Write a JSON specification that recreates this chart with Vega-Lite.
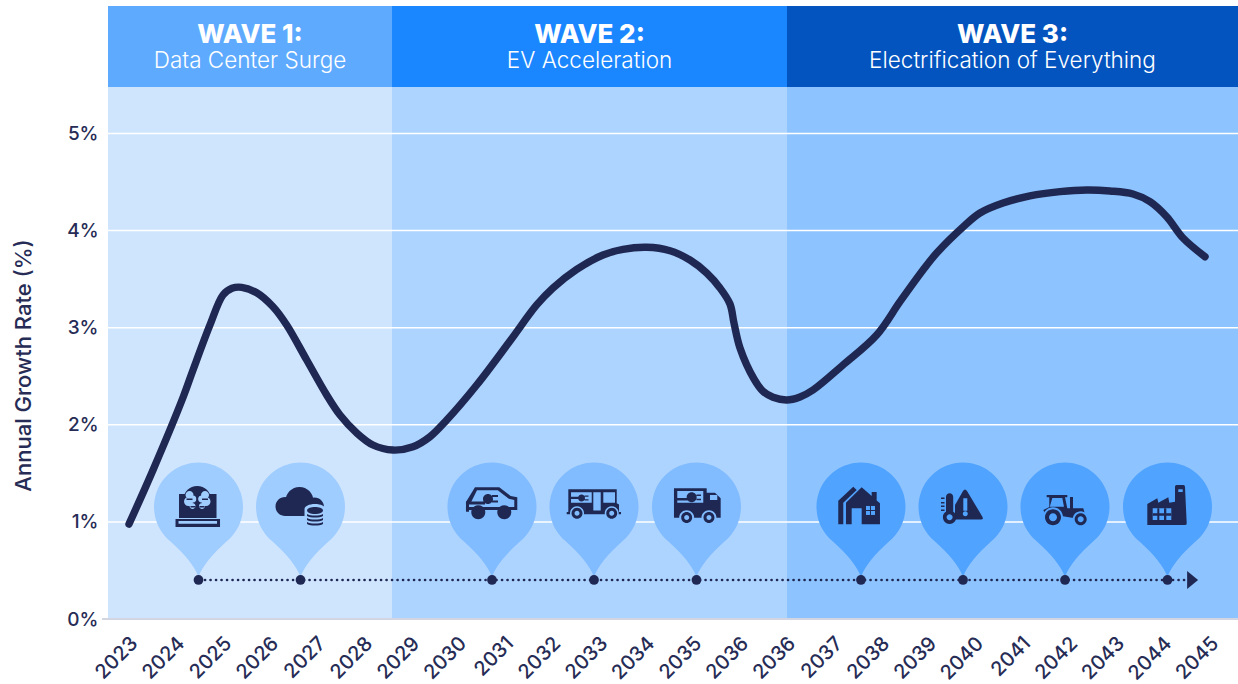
{
"$schema":"https://vega.github.io/schema/vega-lite/v6.json",
"width":1130,"height":613,
"autosize":{"type":"none"},
"padding":{"left":108,"top":6,"right":0,"bottom":65},
"background":"white",
"config":{"view":{"stroke":null},"font":"Inter"},
"datasets":{
"waves":[
{"wave":"w1","title":"WAVE 1:","subtitle":"Data Center Surge","start":-0.447,"end":5.596,"mid":2.574,"base":0,"panelTop":5.48,"headerTop":6.313,"titleY":6.015,"subY":5.742},
{"wave":"w2","title":"WAVE 2:","subtitle":"EV Acceleration","start":5.596,"end":14,"mid":9.798,"base":0,"panelTop":5.48,"headerTop":6.313,"titleY":6.015,"subY":5.742},
{"wave":"w3","title":"WAVE 3:","subtitle":"Electrification of Everything","start":14,"end":23.596,"mid":18.798,"base":0,"panelTop":5.48,"headerTop":6.313,"titleY":6.015,"subY":5.742}],
"grid":[{"g":1},{"g":2},{"g":3},{"g":4},{"g":5}],
"baseline":[{"a":-0.574,"b":23.596,"v":0}],
"timeline":[{"a":1.617,"b":22.53,"v":0.402}],
"arrow":[{"t":22.63,"v":0.402}],
"pins":[
{"icon":"brain","wave":"w1","t":1.479,"v":0.402},
{"icon":"cloud","wave":"w1","t":3.649,"v":0.402},
{"icon":"car","wave":"w2","t":7.723,"v":0.402},
{"icon":"truck1","wave":"w2","t":9.894,"v":0.402},
{"icon":"truck2","wave":"w2","t":12.074,"v":0.402},
{"icon":"house","wave":"w3","t":15.574,"v":0.402},
{"icon":"thermo","wave":"w3","t":17.745,"v":0.402},
{"icon":"tractor","wave":"w3","t":19.915,"v":0.402},
{"icon":"factory","wave":"w3","t":22.096,"v":0.402}],
"line":[
{"t":0,"v":0.978},{"t":0.511,"v":1.535},{"t":1.155,"v":2.289},{"t":1.362,"v":2.564},{"t":1.723,"v":3.028},{"t":2.0,"v":3.337},{"t":2.191,"v":3.406},{"t":2.398,"v":3.416},{"t":2.717,"v":3.36},{"t":3.064,"v":3.216},{"t":3.355,"v":3.028},{"t":3.781,"v":2.667},{"t":4.206,"v":2.307},{"t":4.489,"v":2.101},{"t":4.845,"v":1.916},{"t":5.191,"v":1.792},{"t":5.617,"v":1.74},{"t":6.043,"v":1.774},{"t":6.404,"v":1.877},{"t":6.76,"v":2.049},{"t":7.398,"v":2.41},{"t":8.106,"v":2.863},{"t":8.674,"v":3.234},{"t":9.021,"v":3.409},{"t":9.526,"v":3.601},{"t":10.085,"v":3.749},{"t":10.511,"v":3.807},{"t":11.015,"v":3.828},{"t":11.511,"v":3.793},{"t":11.936,"v":3.697},{"t":12.291,"v":3.563},{"t":12.574,"v":3.409},{"t":12.787,"v":3.244},{"t":12.872,"v":3.048},{"t":13.0,"v":2.791},{"t":13.3,"v":2.47},{"t":13.489,"v":2.345},{"t":13.702,"v":2.283},{"t":13.994,"v":2.255},{"t":14.277,"v":2.286},{"t":14.553,"v":2.358},{"t":15.191,"v":2.616},{"t":15.908,"v":2.925},{"t":16.404,"v":3.268},{"t":16.894,"v":3.594},{"t":17.185,"v":3.769},{"t":17.745,"v":4.037},{"t":18.106,"v":4.181},{"t":18.596,"v":4.284},{"t":19.17,"v":4.357},{"t":19.809,"v":4.401},{"t":20.377,"v":4.418},{"t":20.872,"v":4.408},{"t":21.362,"v":4.377},{"t":21.723,"v":4.298},{"t":22.079,"v":4.143},{"t":22.426,"v":3.924},{"t":22.894,"v":3.731}]
},
"resolve":{"scale":{"color":"independent","shape":"independent"}},
"layer":[
{"data":{"name":"waves"},"mark":{"type":"rect"},
"encoding":{
"x":{"field":"start","type":"quantitative","scale":{"domain":[-0.447,23.596],"nice":false,"zero":false},
"axis":{"values":[0,1,2,3,4,5,6,7,8,9,10,11,12,13,14,15,16,17,18,19,20,21,22,23],"labelExpr":"'' + (datum.value < 14 ? 2023 + datum.value : 2022 + datum.value)","title":null,"grid":false,"domain":false,"ticks":false,"labelAngle":-45,"labelAlign":"right","labelBaseline":"middle","labelOffset":5,"labelPadding":21,"labelFontSize":20,"labelFontWeight":500,"labelFont":"Inter","labelColor":"#262C55","labelOverlap":false,"labelBound":false,"labelFlush":false}},
"x2":{"field":"end"},
"y":{"field":"base","type":"quantitative","scale":{"domain":[0,6.313],"nice":false},
"axis":{"values":[0,1,2,3,4,5],"labelExpr":"datum.value + '%'","title":"Annual Growth Rate (%)","titleX":-73,"titleY":359,"titleFontSize":22,"titleFontWeight":500,"titleFont":"Inter","titleColor":"#262C55","grid":false,"domain":false,"ticks":false,"labelPadding":10,"labelFontSize":19,"labelFontWeight":500,"labelFont":"Inter","labelColor":"#262C55"}},
"y2":{"field":"panelTop"},
"color":{"field":"wave","type":"nominal","scale":{"domain":["w1","w2","w3"],"range":["#CFE5FE","#ADD3FF","#8DC3FF"]},"legend":null}}},
{"data":{"name":"waves"},"mark":{"type":"rect"},
"encoding":{
"x":{"field":"start","type":"quantitative"},"x2":{"field":"end"},
"y":{"field":"panelTop","type":"quantitative"},"y2":{"field":"headerTop"},
"color":{"field":"wave","type":"nominal","scale":{"domain":["w1","w2","w3"],"range":["#5EAAFF","#1A86FF","#0354BF"]},"legend":null}}},
{"data":{"name":"grid"},"mark":{"type":"rule","color":"white","strokeWidth":1.5},
"encoding":{"y":{"field":"g","type":"quantitative"}}},
{"data":{"name":"baseline"},"mark":{"type":"rule","color":"#D3D6E2","strokeWidth":2,"clip":false},
"encoding":{"x":{"field":"a","type":"quantitative"},"x2":{"field":"b"},"y":{"field":"v","type":"quantitative"}}},
{"data":{"name":"line"},"mark":{"type":"line","color":"#1F2853","strokeWidth":7.4,"interpolate":"catmull-rom","strokeCap":"round","strokeJoin":"round"},
"encoding":{"x":{"field":"t","type":"quantitative"},"y":{"field":"v","type":"quantitative"}}},
{"data":{"name":"timeline"},"mark":{"type":"rule","color":"#1F2853","strokeWidth":2.6,"strokeCap":"round","strokeDash":[0.1,5.4]},
"encoding":{"x":{"field":"a","type":"quantitative"},"x2":{"field":"b"},"y":{"field":"v","type":"quantitative"}}},
{"data":{"name":"arrow"},"mark":{"type":"point","filled":true,"opacity":1,"size":4,"color":"#1F2853","shape":"M-5.5 -9L5.5 0L-5.5 9Z"},
"encoding":{"x":{"field":"t","type":"quantitative"},"y":{"field":"v","type":"quantitative"}}},
{"data":{"name":"pins"},"mark":{"type":"point","filled":true,"opacity":1,"size":4,"shape":"M0 -3C-4 -14 -14 -26 -28 -38.5A44.5 44.5 0 1 1 28 -38.5C14 -26 4 -14 0 -3Z"},
"encoding":{"x":{"field":"t","type":"quantitative"},"y":{"field":"v","type":"quantitative"},
"color":{"field":"wave","type":"nominal","scale":{"domain":["w1","w2","w3"],"range":["#A0CDFF","#80BCFF","#50A3FF"]},"legend":null}}},
{"data":{"name":"pins"},"mark":{"type":"point","filled":true,"opacity":1,"size":95,"shape":"circle","color":"#1F2853"},
"encoding":{"x":{"field":"t","type":"quantitative"},"y":{"field":"v","type":"quantitative"}}},
{"data":{"name":"pins"},"mark":{"type":"point","filled":true,"opacity":1,"size":4,"color":"#1F2853"},
"encoding":{"x":{"field":"t","type":"quantitative"},"y":{"field":"v","type":"quantitative"},
"shape":{"field":"icon","type":"nominal","legend":null,"scale":{"domain":["brain","cloud","car","truck1","truck2","house","thermo","tractor","factory"],"range":[
"M-19.5 -86H18V-62H-19.5Z M-23 -61H21.5V-53H-23Z M-15 -81A13.7 13 0 1 1 12.4 -81A13.7 13 0 1 1 -15 -81Z",
"M-15 -79A14 14 0 1 1 13 -79A14 14 0 1 1 -15 -79Z M-25 -73.5A9.5 9.5 0 1 1 -6 -73.5A9.5 9.5 0 1 1 -25 -73.5Z M4.5 -73A9.5 9.5 0 1 1 23.5 -73A9.5 9.5 0 1 1 4.5 -73Z M-15 -74H14V-64H-15Z",
"M-26 -78L-17 -92.7H7.3L18.7 -84L25.3 -82.7V-70H-26Z",
"M-25.7 -90.7H22.7V-76.7L25 -75.5V-68H27V-65.7H-27.3V-68H-25.7Z",
"M-22.5 -91.7H10.2V-87.3H18.5L24.2 -81.7V-62.3H-22.5Z",
"M0.7 -92.7L10.7 -84V-88H15.7V-79.5L19 -76.7V-55.7H0.7V-71.7H-9.3V-55.7H-15V-77.3Z M-22.7 -55.7V-79.3L-7.7 -93.3L-4.3 -90L-17.7 -77.3V-55.7Z",
"M0 -89Q2 -92 4 -89L19.5 -63Q20.5 -60.5 18 -60.5H-9.7V-72Z",
"M-18.3 -85H2.3V-82.7H0L2.3 -71.7H18.3L20.7 -63.3L10 -61.7L-20 -66.7L-21.7 -70L-15.7 -73V-82.7H-18.3Z M5 -83H8V-71.7H5Z",
"M-20.2 -76L-10.2 -81.7L-9.2 -77.3L0.8 -82.7L1.8 -77.3L7.5 -78.3V-93.3Q7.5 -95 9 -95H16Q17.5 -95 17.5 -93L19.2 -56.5Q19.2 -55 17.5 -55H-20.2Z"
]}}}},
{"data":{"name":"pins"},"mark":{"type":"point","filled":true,"opacity":1,"size":4},
"encoding":{"x":{"field":"t","type":"quantitative"},"y":{"field":"v","type":"quantitative"},
"color":{"field":"wave","type":"nominal","scale":{"domain":["w1","w2","w3"],"range":["#A0CDFF","#80BCFF","#50A3FF"]},"legend":null},
"shape":{"field":"icon","type":"nominal","legend":null,"scale":{"domain":["brain","cloud","car","truck1","truck2","house","thermo","tractor","factory"],"range":[
"M-20 -59H18.5V-56.2H-20Z M-13 -85A4 4 0 1 1 -5 -85A4 4 0 1 1 -13 -85Z M-14.5 -78.5A4.5 4.5 0 1 1 -5.5 -78.5A4.5 4.5 0 1 1 -14.5 -78.5Z M-9 -81A3.5 3.5 0 1 1 -2 -81A3.5 3.5 0 1 1 -9 -81Z M-9 -74A3 3 0 1 1 -3 -74A3 3 0 1 1 -9 -74Z M2.5 -85A4 4 0 1 1 10.5 -85A4 4 0 1 1 2.5 -85Z M3 -78.5A4.5 4.5 0 1 1 12 -78.5A4.5 4.5 0 1 1 3 -78.5Z M-0.5 -81A3.5 3.5 0 1 1 6.5 -81A3.5 3.5 0 1 1 -0.5 -81Z M0.5 -74A3 3 0 1 1 6.5 -74A3 3 0 1 1 0.5 -74Z",
"M4 -71A10.5 5 0 0 1 25 -71V-56A10.5 5 0 0 1 4 -56Z",
"M-15 -89.7H5.8L16.8 -81.2L22.3 -80V-73H-23V-78L-20.8 -78Z",
"M-23 -87.7H-2.3V-77.3H-23Z M-0.7 -87.7H6.7V-69.5H-0.7Z M9.3 -87.7H21V-77.3H9.3Z M-24 -66.7A7 7 0 1 1 -10 -66.7A7 7 0 1 1 -24 -66.7Z M10.7 -66.7A7 7 0 1 1 24.7 -66.7A7 7 0 1 1 10.7 -66.7Z",
"M-19.2 -89H6.8V-77.3H-19.2Z M13.5 -85H20.8V-80H13.5Z M-17.3 -62.3A7.5 7.5 0 1 1 -2.3 -62.3A7.5 7.5 0 1 1 -17.3 -62.3Z M5 -62.3A7.5 7.5 0 1 1 20 -62.3A7.5 7.5 0 1 1 5 -62.3Z",
"M5 -74H14V-65H5Z",
"M-19 -88H-8V-60H-19Z M0.3 -81.7H4.3V-69.3H0.3Z M-0.2 -66.3A2.5 2.5 0 1 1 4.8 -66.3A2.5 2.5 0 1 1 -0.2 -66.3Z",
"M-12.7 -82H-2.7L-1 -73.3H-15.2Z M-22 -62.7A10 10 0 1 1 -2 -62.7A10 10 0 1 1 -22 -62.7Z M7.7 -60.7A8 8 0 1 1 23.7 -60.7A8 8 0 1 1 7.7 -60.7Z",
"M10.8 -90.7H15.2V-88H10.8Z M-14.8 -71.7H3.8V-60H-14.8Z"
]}}}},
{"data":{"name":"pins"},"mark":{"type":"point","filled":true,"opacity":1,"size":4,"color":"#1F2853"},
"encoding":{"x":{"field":"t","type":"quantitative"},"y":{"field":"v","type":"quantitative"},
"shape":{"field":"icon","type":"nominal","legend":null,"scale":{"domain":["brain","cloud","car","truck1","truck2","house","thermo","tractor","factory"],"range":[
"M-12 -81.5H-6V-80H-12Z M3.5 -81.5H9.5V-80H3.5Z M-8 -74H-3V-72.5H-8Z M1 -74H6V-72.5H1Z M-2.1 -92H-0.4V-68H-2.1Z",
"M6.5 -69.5A8 3.5 0 1 1 22.5 -69.5A8 3.5 0 1 1 6.5 -69.5Z M6.5 -66C10 -64 19 -64 22.5 -66V-64C19 -62 10 -62 6.5 -64Z M6.5 -62C10 -60 19 -60 22.5 -62V-60C19 -58 10 -58 6.5 -60Z M6.5 -58C10 -56 19 -56 22.5 -58V-56C19 -54 10 -54 6.5 -56Z",
"M-26 -78.5H-7V-75.5H-26Z M-9 -81A5 5 0 1 1 1 -81A5 5 0 1 1 -9 -81Z M0 -85H6V-83H0Z M0 -79.5H6V-77.5H0Z M-20.7 -67.7A7 7 0 1 1 -6.7 -67.7A7 7 0 1 1 -20.7 -67.7Z M5.3 -67.7A7 7 0 1 1 19.3 -67.7A7 7 0 1 1 5.3 -67.7Z M-26 -78H-23V-68.3H-26Z",
"M-23 -83.3H-15V-81H-23Z M-16 -82A3.5 3.5 0 1 1 -9 -82A3.5 3.5 0 1 1 -16 -82Z M-9.5 -84.5H-5.5V-83.3H-9.5Z M-9.5 -80.7H-5.5V-79.5H-9.5Z M-22.5 -66.7A5.5 5.5 0 1 1 -11.5 -66.7A5.5 5.5 0 1 1 -22.5 -66.7Z M-19.5 -66.7A2.5 2.5 0 1 0 -14.5 -66.7A2.5 2.5 0 1 0 -19.5 -66.7Z M12.2 -66.7A5.5 5.5 0 1 1 23.2 -66.7A5.5 5.5 0 1 1 12.2 -66.7Z M15.2 -66.7A2.5 2.5 0 1 0 20.2 -66.7A2.5 2.5 0 1 0 15.2 -66.7Z",
"M-22.5 -82H-7V-79.5H-22.5Z M-9.8 -82.7A5 5 0 1 1 0.2 -82.7A5 5 0 1 1 -9.8 -82.7Z M0 -85.5H4.5V-84H0Z M0 -81.3H4.5V-79.8H0Z M-15.3 -62.5A5.5 5.5 0 1 1 -4.3 -62.5A5.5 5.5 0 1 1 -15.3 -62.5Z M-12.3 -62.5A2.5 2.5 0 1 0 -7.3 -62.5A2.5 2.5 0 1 0 -12.3 -62.5Z M7 -62.5A5.5 5.5 0 1 1 18 -62.5A5.5 5.5 0 1 1 7 -62.5Z M10 -62.5A2.5 2.5 0 1 0 15 -62.5A2.5 2.5 0 1 0 10 -62.5Z",
"M9 -74H10V-65H9Z M5 -70H14V-69H5Z",
"M-17 -83A3.6 3.6 0 0 1 -9.8 -83V-67H-17Z M-20.1 -62.7A6.7 6.7 0 1 1 -6.7 -62.7A6.7 6.7 0 1 1 -20.1 -62.7Z M-16.4 -62.7A3 3 0 1 0 -10.4 -62.7A3 3 0 1 0 -16.4 -62.7Z M-22 -82.5H-18.5V-81H-22Z M-22 -78H-18.5V-76.5H-22Z M-22 -74.5H-18.5V-73H-22Z M-22 -70.5H-18.5V-69H-22Z",
"M-20 -62.7A8 8 0 1 1 -4 -62.7A8 8 0 1 1 -20 -62.7Z M-16 -62.7A4 4 0 1 0 -8 -62.7A4 4 0 1 0 -16 -62.7Z M9.7 -60.7A6 6 0 1 1 21.7 -60.7A6 6 0 1 1 9.7 -60.7Z M12.7 -60.7A3 3 0 1 0 18.7 -60.7A3 3 0 1 0 12.7 -60.7Z",
"M-10.2 -71.7H-8.2V-60H-10.2Z M-3.5 -71.7H-1.2V-60H-3.5Z M-14.8 -66.7H3.8V-64.3H-14.8Z"
]}}}},
{"data":{"name":"waves"},"mark":{"type":"text","color":"white","fontSize":26,"fontWeight":800,"font":"Inter","baseline":"middle","align":"center"},
"encoding":{"x":{"field":"mid","type":"quantitative"},"y":{"field":"titleY","type":"quantitative"},"text":{"field":"title"}}},
{"data":{"name":"waves"},"mark":{"type":"text","color":"white","fontSize":22.5,"fontWeight":300,"font":"Inter","baseline":"middle","align":"center"},
"encoding":{"x":{"field":"mid","type":"quantitative"},"y":{"field":"subY","type":"quantitative"},"text":{"field":"subtitle"}}}
]
}
